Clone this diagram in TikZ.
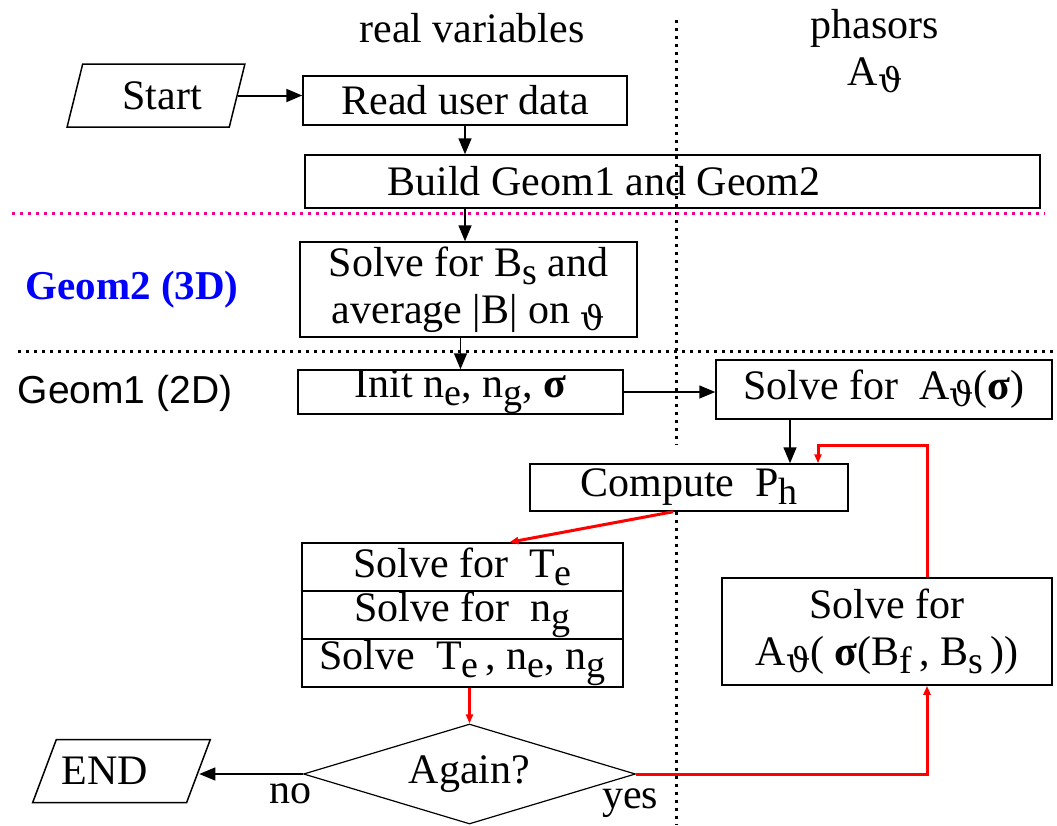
\documentclass[tikz,border=0pt]{standalone}
\usepackage{fontspec}
\setmainfont{Liberation Serif}
\newfontfamily\geomfont{Liberation Sans}
\newfontfamily\thetafont{DejaVu Serif}
\usetikzlibrary{arrows.meta,shapes.geometric}
\newcommand{\lo}[1]{\raisebox{-8pt}{\fontsize{38}{38}\selectfont #1}}
\newcommand{\vth}{\raisebox{-7pt}{\fontsize{34}{34}\thetafont ϑ}}

\begin{document}
\begin{tikzpicture}[x=1pt,y=-1pt,font=\fontsize{42}{47}\selectfont,line width=1.5pt,>={Triangle[length=16pt,width=13pt]},
box/.style={draw,inner sep=0pt,align=center},
io/.style={draw,trapezium,trapezium left angle=71,trapezium right angle=109,minimum width=178,minimum height=63,trapezium stretches=true,inner sep=0pt},
dia/.style={draw,diamond,aspect=3.3,minimum width=332,minimum height=100,inner sep=0pt,line width=1.2pt},
back/.style={red,line width=3pt,-{Triangle[length=9pt,width=7pt]}},
divider/.style={line width=3pt,dash pattern=on 3pt off 5pt}]
\useasboundingbox (0,0) rectangle (1057,825);
\draw[divider] (676,20) -- (676,445) (676,512) -- (676,825);
\draw[divider,magenta] (12,213) -- (1045,213);
\draw[divider] (18,351) -- (1057,351);
\node (real) at (472,28) {real variables};
\node (phas) at (875,28) {phasors};
\node (aphas) at (875,75) {A\vth};
\node[text=blue,font=\fontsize{41}{46}\selectfont\bfseries] (geomb) at (132,290) {Geom2 (3D)};
\node[font=\fontsize{39}{46}\geomfont] (geoma) at (125,393) {Geom1 (2D)};
\node[io] (start) at (156,95.5) {\hspace*{12pt}Start};
\node[box,minimum width=324,minimum height=49] (read) at (465,100.5) {Read user data};
\node[box,minimum width=735,minimum height=53] (build) at (672.5,181.5) {\hspace*{-137pt}Build Geom1 and Geom2};
\node[box,minimum width=337,minimum height=95] (bs) at (468.5,289.5) {Solve for B\lo{s} and\\average |B| on \vth};
\node[box,minimum width=325,minimum height=44] (init) at (460.5,392) {Init n\lo{e}, n\lo{g}, \textbf{σ}};
\node[box,minimum width=336,minimum height=59] (sola) at (884,389.5) {Solve for~~A\vth(\textbf{σ})};
\node[box,minimum width=318,minimum height=47] (comp) at (689,487.5) {Compute~~P\lo{h}};
\node[box,minimum width=321,minimum height=48] (te) at (462.5,567) {Solve for~~T\lo{e}};
\node[box,minimum width=321,minimum height=48] (ng) at (462.5,615) {Solve for~~n\lo{g}};
\node[box,minimum width=321,minimum height=48] (all) at (462.5,663) {Solve~~T\lo{e}\,, n\lo{e},~n\lo{g}};
\node[box,minimum width=330,minimum height=107] (solb) at (887,631.5) {Solve for\\A\vth( \textbf{σ}(B\lo{f}\,, B\lo{s}\,))};
\node[dia] (again) at (469.5,774) {Again?};
\node[io] (end) at (121.5,771) {\hspace*{-34pt}END};
\coordinate (turn) at (927,445);
\draw[->,line width=2pt] (start.east) -- (start.east -| read.west);
\draw[->] (read.south) -- (read.south |- build.north);
\draw[->] (read.south |- build.south) -- (read.south |- bs.north);
\draw[->] (init.north |- bs.south) -- (init.north);
\draw[->] (init.east) -- (init.east -| sola.west);
\draw[->] ([xshift=-94pt]sola.south) -- ([xshift=-94pt]sola.south |- comp.north);
\draw[back] ([xshift=-16pt]comp.south) -- ([xshift=47pt]te.north);
\draw[back] (again.north |- all.south) -- (again.north);
\draw[->,line width=1.2pt] (again.west) -- node[pos=0.12,below=6pt]{no} (again.west -| end.east);
\draw[back] (again.east) node[below=10pt,xshift=-6pt,black]{yes} -| ([xshift=40pt]solb.south);
\draw[back] ([xshift=40pt]solb.north) -- (turn) -| ([xshift=129pt]comp.north);
\end{tikzpicture}
\end{document}
